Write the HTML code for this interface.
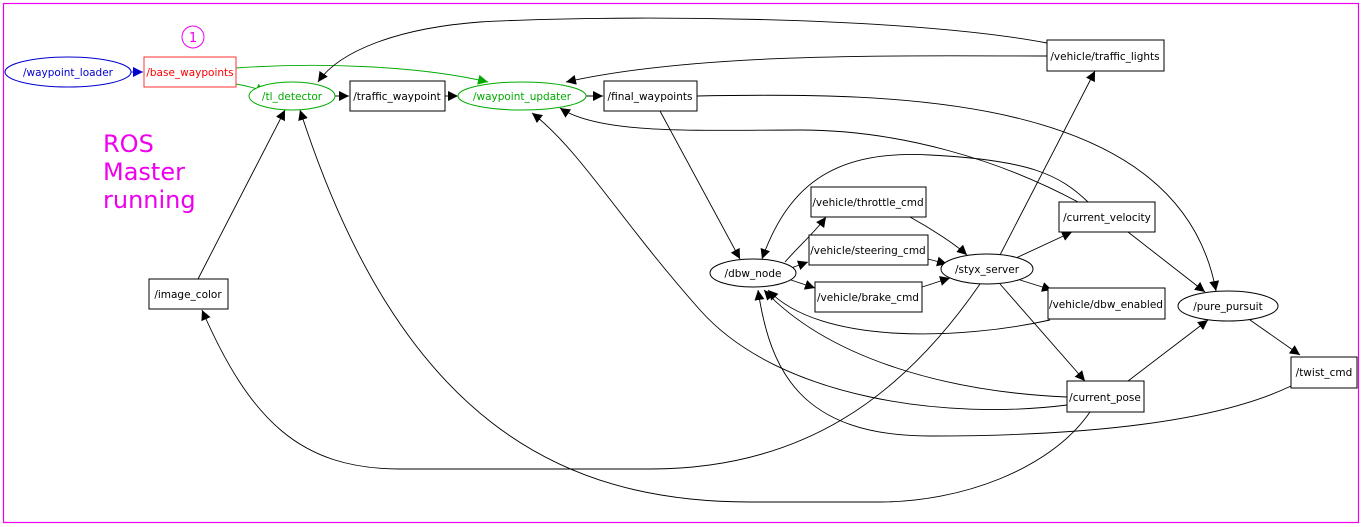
<!DOCTYPE html>
<html><head><meta charset="utf-8"><style>
html,body{margin:0;padding:0;background:#fff;}
svg{display:block;font-family:"DejaVu Sans","Liberation Sans",sans-serif;}
text{font-size:10.5px;}
</style></head><body>
<svg width="1363" height="527" viewBox="0 0 1363 527" xmlns="http://www.w3.org/2000/svg">
<defs>
<marker id="a" viewBox="0 0 10 10" refX="10" refY="5" markerWidth="10" markerHeight="10" markerUnits="userSpaceOnUse" orient="auto"><path d="M0,0L10,5L0,10z" fill="#000"/></marker>
<marker id="g" viewBox="0 0 10 10" refX="10" refY="5" markerWidth="10" markerHeight="10" markerUnits="userSpaceOnUse" orient="auto"><path d="M0,0L10,5L0,10z" fill="#0a0"/></marker>
<marker id="b" viewBox="0 0 10 10" refX="10" refY="5" markerWidth="10" markerHeight="10" markerUnits="userSpaceOnUse" orient="auto"><path d="M0,0L10,5L0,10z" fill="#00c"/></marker>
</defs>
<rect x="3.5" y="3.5" width="1355" height="519" fill="none" stroke="#e0e" stroke-width="1.2"/>
<g fill="none" stroke="#000" stroke-width="0.9">
<path d="M131,72 L143,72" stroke="#00c" marker-end="url(#b)"/>
<path d="M236,84 C248,86 258,89 266,92" stroke="#0a0" marker-end="url(#g)"/>
<path d="M236,68 C320,62 420,66 488,82" stroke="#0a0" marker-end="url(#g)"/>
<path d="M335,96 L349,96" marker-end="url(#a)"/>
<path d="M445,96 L458,96" marker-end="url(#a)"/>
<path d="M586,96 L603,96" marker-end="url(#a)"/>
<path d="M1047,43 C900,15 600,15 480,22 C400,28 340,50 318,82" marker-end="url(#a)"/>
<path d="M1047,56 C900,56 700,52 566,82" marker-end="url(#a)"/>
<path d="M697,96 C900,92 1180,95 1216,291" marker-end="url(#a)"/>
<path d="M660,111 L740,259" marker-end="url(#a)"/>
<path d="M198,279 L285,110" marker-end="url(#a)"/>
<path d="M1088,202 C1060,175 1030,160 930,155 C840,150 790,180 762,259" marker-end="url(#a)"/>
<path d="M1078,202 C1000,160 900,130 800,130 C700,130 600,135 560,108" marker-end="url(#a)"/>
<path d="M785,262 C800,245 815,232 826,217" marker-end="url(#a)"/>
<path d="M791,268 L808,262" marker-end="url(#a)"/>
<path d="M791,280 L815,288" marker-end="url(#a)"/>
<path d="M910,217 C930,228 955,244 967,255" marker-end="url(#a)"/>
<path d="M928,259 L947,264" marker-end="url(#a)"/>
<path d="M922,287 C932,284 940,281 950,278" marker-end="url(#a)"/>
<path d="M1016,258 L1072,232" marker-end="url(#a)"/>
<path d="M1000,255 L1095,71" marker-end="url(#a)"/>
<path d="M1020,280 L1052,290" marker-end="url(#a)"/>
<path d="M1000,284 L1085,381" marker-end="url(#a)"/>
<path d="M1128,232 L1205,292" marker-end="url(#a)"/>
<path d="M1128,381 L1208,320" marker-end="url(#a)"/>
<path d="M1250,320 L1300,355" marker-end="url(#a)"/>
<path d="M1050,320 C960,340 820,345 768,290" marker-end="url(#a)"/>
<path d="M1067,397 C950,392 830,360 764,290" marker-end="url(#a)"/>
<path d="M1067,405 C950,420 780,400 700,310 C620,220 580,150 532,113" marker-end="url(#a)"/>
<path d="M1291,386 C1220,420 1100,436 930,436 C800,436 770,370 758,290" marker-end="url(#a)"/>
<path d="M980,284 C900,400 800,469 650,469 L400,469 C300,469 250,420 202,310" marker-end="url(#a)"/>
<path d="M1090,412 C1050,470 960,502 880,502 L750,502 C560,502 400,420 300,110" marker-end="url(#a)"/>
</g>
<g stroke-width="1">
<ellipse cx="68" cy="72" rx="63" ry="15" fill="#fff" stroke="#00c"/>
<text x="68" y="76" text-anchor="middle" fill="#00c">/waypoint_loader</text>
<rect x="144" y="57" width="92" height="30" fill="#fff" stroke="#f33"/>
<text x="190" y="76" text-anchor="middle" fill="#f00">/base_waypoints</text>
<circle cx="193" cy="37" r="11" fill="#fff" stroke="#e0e"/>
<text x="193" y="42" text-anchor="middle" fill="#e0e" style="font-size:13px">1</text>
<ellipse cx="292" cy="96" rx="43" ry="14" fill="#fff" stroke="#0a0"/>
<text x="292" y="100" text-anchor="middle" fill="#0a0">/tl_detector</text>
<rect x="350" y="81" width="95" height="30" fill="#fff" stroke="#000"/>
<text x="397" y="100" text-anchor="middle">/traffic_waypoint</text>
<ellipse cx="522" cy="96" rx="64" ry="14" fill="#fff" stroke="#0a0"/>
<text x="522" y="100" text-anchor="middle" fill="#0a0">/waypoint_updater</text>
<rect x="604" y="81" width="93" height="30" fill="#fff" stroke="#000"/>
<text x="650" y="100" text-anchor="middle">/final_waypoints</text>
<rect x="1047" y="40" width="117" height="31" fill="#fff" stroke="#000"/>
<text x="1105" y="60" text-anchor="middle">/vehicle/traffic_lights</text>
<rect x="149" y="279" width="79" height="30" fill="#fff" stroke="#000"/>
<text x="188" y="298" text-anchor="middle">/image_color</text>
<rect x="811" y="187" width="115" height="30" fill="#fff" stroke="#000"/>
<text x="868" y="206" text-anchor="middle">/vehicle/throttle_cmd</text>
<rect x="809" y="235" width="119" height="30" fill="#fff" stroke="#000"/>
<text x="868" y="254" text-anchor="middle">/vehicle/steering_cmd</text>
<rect x="815" y="282" width="107" height="30" fill="#fff" stroke="#000"/>
<text x="868" y="301" text-anchor="middle">/vehicle/brake_cmd</text>
<ellipse cx="753" cy="273" rx="43" ry="14" fill="#fff" stroke="#000"/>
<text x="753" y="277" text-anchor="middle">/dbw_node</text>
<ellipse cx="987" cy="269" rx="46" ry="15" fill="#fff" stroke="#000"/>
<text x="987" y="273" text-anchor="middle">/styx_server</text>
<rect x="1059" y="202" width="96" height="30" fill="#fff" stroke="#000"/>
<text x="1107" y="221" text-anchor="middle">/current_velocity</text>
<rect x="1048" y="288" width="117" height="31" fill="#fff" stroke="#000"/>
<text x="1106" y="308" text-anchor="middle">/vehicle/dbw_enabled</text>
<ellipse cx="1228" cy="306" rx="50" ry="15" fill="#fff" stroke="#000"/>
<text x="1228" y="310" text-anchor="middle">/pure_pursuit</text>
<rect x="1291" y="357" width="66" height="31" fill="#fff" stroke="#000"/>
<text x="1324" y="376" text-anchor="middle">/twist_cmd</text>
<rect x="1067" y="381" width="77" height="31" fill="#fff" stroke="#000"/>
<text x="1105" y="401" text-anchor="middle">/current_pose</text>
</g>
<g fill="#e0e"><text x="103" y="152" style="font-size:24px">ROS</text><text x="103" y="180" style="font-size:24px">Master</text><text x="103" y="208" style="font-size:24px">running</text></g>
</svg>
</body></html>
